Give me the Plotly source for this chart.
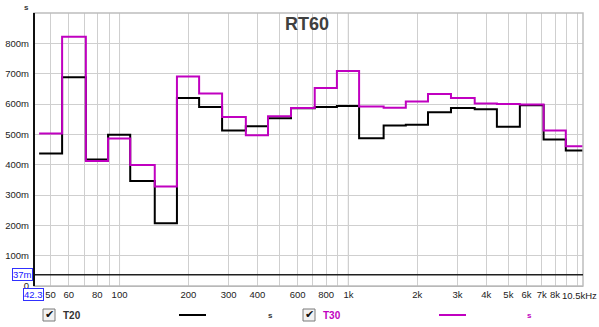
import math
import plotly.graph_objects as go

# 1/3-octave band centre frequencies (Hz)
bands = [50, 63, 80, 100, 125, 160, 200, 250, 315, 400, 500, 630, 800,
         1000, 1250, 1600, 2000, 2500, 3150, 4000, 5000, 6300, 8000, 10000]
# RT60 values in milliseconds
t20 = [437, 688, 417, 499, 346, 207, 620, 590, 513, 527, 553, 586, 590,
       593, 487, 529, 532, 573, 587, 583, 525, 596, 483, 447]
t30 = [503, 822, 412, 486, 399, 328, 691, 635, 557, 497, 560, 587, 653,
       709, 592, 588, 608, 633, 620, 602, 600, 598, 513, 461]

x_grid = [50, 60, 70, 80, 90, 100, 200, 300, 400, 500, 600, 700, 800, 900,
          1000, 2000, 3000, 4000, 5000, 6000, 7000, 8000, 9000, 10000]
x_text = ["50", "60", "", "80", "", "100", "200", "300", "400", "", "600", "",
          "800", "", "1k", "2k", "3k", "4k", "5k", "6k", "7k", "8k", "", ""]
end_label = "10.5kHz"
y_vals = [0, 100, 200, 300, 400, 500, 600, 700, 800]
y_text = ["0", "100m", "200m", "300m", "400m", "500m", "600m", "700m", "800m"]

x_min, x_max = 42.3, 10593
cursor_y = 37

FONT = "Liberation Sans, Arial, sans-serif"
MAG = "#c000c0"


def steps(vals):
    xs = [b * 2 ** (-1 / 6) for b in bands] + [bands[-1] * 2 ** (1 / 6)]
    ys = list(vals) + [vals[-1]]
    return xs, ys


fig = go.Figure()
for name, vals, col in [("T20", t20, "#000000"), ("T30", t30, MAG)]:
    xs, ys = steps(vals)
    fig.add_trace(go.Scatter(x=xs, y=ys, mode="lines", line_shape="hv",
                             line=dict(color=col, width=2), name=name,
                             showlegend=False))

L, R, T, B = 34, 16, 13, 41
W, H = 599, 327
PW, PH = W - L - R, H - T - B


def px(x):
    return (x - L) / PW


def py(y):
    return (H - B - y) / PH


shapes = []
for f in (100, 1000):
    shapes.append(dict(type="line", xref="x", yref="paper", x0=f, x1=f, y0=0, y1=1,
                       line=dict(color="#8c8c8c", width=1), layer="below"))
shapes.append(dict(type="rect", xref="paper", yref="paper", x0=0, x1=1, y0=0, y1=1,
                   line=dict(color="#bdbdbd", width=1.5)))
shapes.append(dict(type="line", xref="paper", yref="y", x0=0, x1=1, y0=cursor_y, y1=cursor_y,
                   line=dict(color="#202020", width=1.5)))
shapes.append(dict(type="line", xref="paper", yref="paper", x0=0, x1=0, y0=0, y1=1,
                   line=dict(color="#101010", width=2)))

annotations = [
    dict(text="<b>RT60</b>", xref="paper", yref="paper", x=px(307), y=py(24.5),
         showarrow=False, font=dict(family=FONT, size=18, color="#404040"),
         xanchor="center", yanchor="middle"),
    dict(text="<b>s</b>", xref="paper", yref="paper", x=px(26), y=py(7),
         showarrow=False, font=dict(family=FONT, size=8, color="#333333"),
         xanchor="center", yanchor="middle"),
    dict(text="37m", xref="paper", yref="paper", x=px(22), y=py(274.5),
         showarrow=False, font=dict(family=FONT, size=9.5, color="#2020ff"),
         bordercolor="#3030ff", borderwidth=1, borderpad=0, bgcolor="white",
         xanchor="center", yanchor="middle"),
    dict(text="42.3", xref="paper", yref="paper", x=px(33), y=py(294.5),
         showarrow=False, font=dict(family=FONT, size=9.5, color="#2020ff"),
         bordercolor="#3030ff", borderwidth=1, borderpad=0, bgcolor="white",
         xanchor="center", yanchor="middle"),
    dict(text=end_label, xref="paper", yref="paper", x=px(579), y=py(295),
         showarrow=False, font=dict(family=FONT, size=9.5, color="#222222"),
         xanchor="center", yanchor="middle"),
]

legend_items = [("T20", "#000000", 43, 61, 179, 206, 270),
                ("T30", MAG, 303, 321, 439, 466, 529)]
for name, col, cbx, tx, lx0, lx1, sx in legend_items:
    tcol = "#333333" if col == "#000000" else col
    shapes.append(dict(type="rect", xref="paper", yref="paper",
                       x0=px(cbx), x1=px(cbx + 12), y0=py(321), y1=py(309),
                       line=dict(color="#7a7a7a", width=1), fillcolor="#f2f2f2"))
    shapes.append(dict(type="line", xref="paper", yref="paper",
                       x0=px(lx0), x1=px(lx1), y0=py(315), y1=py(315),
                       line=dict(color=col, width=2)))
    annotations.append(dict(text="✔", xref="paper", yref="paper", x=px(cbx + 6.5), y=py(314.5),
                            showarrow=False, font=dict(family="DejaVu Sans", size=11, color="#111111"),
                            xanchor="center", yanchor="middle"))
    annotations.append(dict(text="<b>" + name + "</b>", xref="paper", yref="paper", x=px(tx), y=py(315),
                            showarrow=False, font=dict(family=FONT, size=10, color=tcol),
                            xanchor="left", yanchor="middle"))
    annotations.append(dict(text="<b>s</b>", xref="paper", yref="paper", x=px(sx), y=py(315.5),
                            showarrow=False, font=dict(family=FONT, size=8, color=tcol),
                            xanchor="center", yanchor="middle"))

fig.update_layout(
    width=W, height=H,
    margin=dict(l=L, r=R, t=T, b=B, pad=0),
    paper_bgcolor="white", plot_bgcolor="white",
    font=dict(family=FONT, size=9.5, color="#222222"),
    shapes=shapes, annotations=annotations,
    xaxis=dict(type="log", range=[math.log10(x_min), math.log10(x_max)],
               tickvals=x_grid, ticktext=x_text, showgrid=True, tickangle=0,
               automargin=False,
               gridcolor="#cfcfcf", gridwidth=1, zeroline=False,
               showline=True, linecolor="#a8a8a8", linewidth=1,
               ticks="", tickfont=dict(family=FONT, size=9.5, color="#222222")),
    yaxis=dict(range=[0, 900], tickvals=y_vals, ticktext=y_text, automargin=False,
               showgrid=True, gridcolor="#cfcfcf", gridwidth=1, zeroline=False,
               showline=False, ticks="", ticklabelstandoff=4,
               tickfont=dict(family=FONT, size=9.5, color="#222222")),
)

fig.write_html("out.html")
